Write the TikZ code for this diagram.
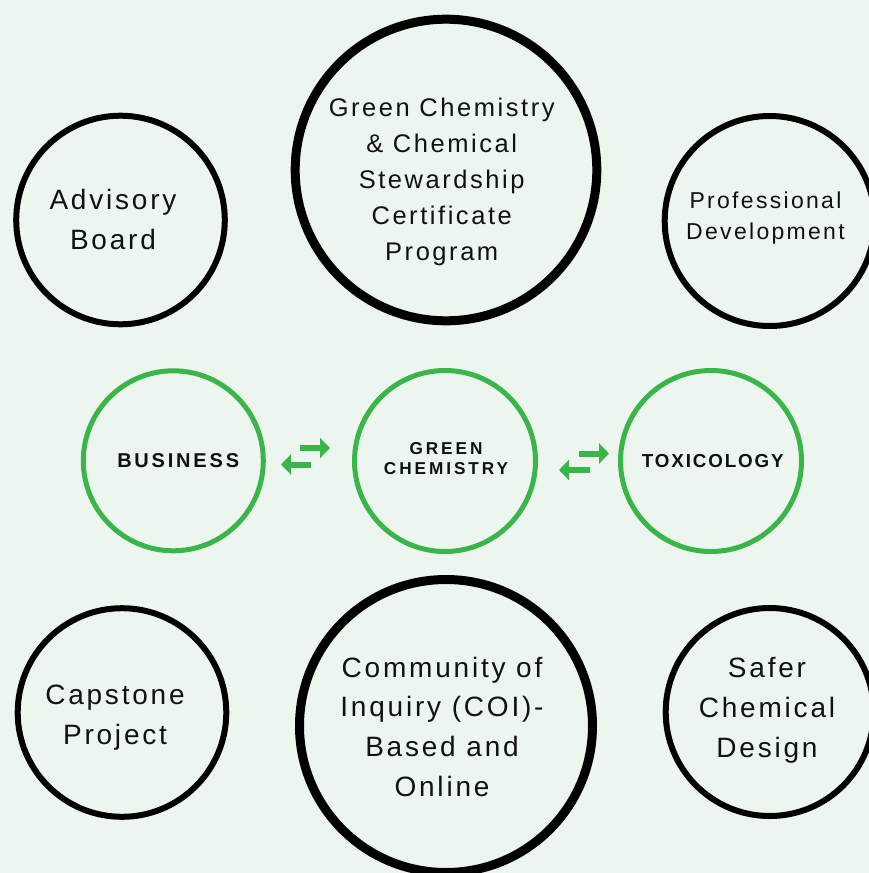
\documentclass[tikz,border=0pt]{standalone}
\usepackage{fontspec}
\setmainfont{Liberation Sans}
\newfontfamily\lsreg[LetterSpace=10]{Liberation Sans}
\newfontfamily\lsbus[LetterSpace=14]{Liberation Sans}
\newfontfamily\lsgc[LetterSpace=17]{Liberation Sans}
\newfontfamily\lstox[LetterSpace=10]{Liberation Sans}
\usetikzlibrary{arrows.meta}
\definecolor{bg}{HTML}{EDF6EE}
\definecolor{grn}{HTML}{3AB54A}
\definecolor{ink}{HTML}{111111}
\tikzset{
  bigring/.style={circle, draw=black, line width=9pt, inner sep=0pt},
  ring/.style={circle, draw=black, line width=6pt, inner sep=0pt},
  greenring/.style={circle, draw=grn, line width=5pt, inner sep=0pt},
  lbl/.style={anchor=north, inner sep=0pt, align=center, text=ink},
  swap/.style={draw=grn, line width=6pt, -{Triangle[length=10pt,width=20pt]}},
}
\begin{document}
\begin{tikzpicture}[x=1pt, y=-1pt]
\fill[bg] (0,0) rectangle (869,873);
\useasboundingbox (0,0) rectangle (869,873);

% black rings
\node[bigring, minimum size=301.6pt] (cert) at (446,170) {};
\node[bigring, minimum size=293pt] (coi) at (446,726) {};
\node[ring, minimum size=208.6pt] (adv) at (120.5,220) {};
\node[ring, minimum size=210pt] (prof) at (769.7,221) {};
\node[ring, minimum size=208.6pt] (cap) at (122,712.5) {};
\node[ring, minimum size=208pt] (safer) at (769.7,712) {};

% green rings
\node[greenring, minimum size=180pt] (bus) at (173.3,460.8) {};
\node[greenring, minimum size=181pt] (gc) at (445,461) {};
\node[greenring, minimum size=181pt] (tox) at (711,461) {};

% labels
\node[lbl, font=\lsreg\fontsize{25.5}{36.1}\selectfont] (certT) at (441.7,97.5)
  {Green Chemistry\\\& Chemical\\Stewardship\\Certificate\\Program};
\node[lbl, font=\lsreg\fontsize{28}{40}\selectfont] (advT) at (113,189.3)
  {Advisory\\Board};
\node[lbl, font=\lsreg\fontsize{23}{31}\selectfont] (profT) at (765.5,191.7)
  {Professional\\Development};
\node[lbl, font=\lsreg\fontsize{28}{39.8}\selectfont] (coiT) at (442,656.7)
  {Community of\\Inquiry (COI)-\\Based and\\Online};
\node[lbl, font=\lsreg\fontsize{28}{40.4}\selectfont] (capT) at (115,684.3)
  {Capstone\\Project};
\node[lbl, font=\lsreg\fontsize{28}{40}\selectfont] (saferT) at (767,656.7)
  {Safer\\Chemical\\Design};

\node[lbl, font=\lsbus\bfseries\fontsize{20}{24}\selectfont] (busT) at (178.2,453.3) {BUSINESS};
\node[lbl, font=\lsgc\bfseries\fontsize{17.2}{19.5}\selectfont] (gcT) at (446,442.7) {GREEN\\CHEMISTRY};
\node[lbl, font=\lstox\bfseries\fontsize{18.8}{22}\selectfont] (toxT) at (712.8,454.3) {TOXICOLOGY};

% exchange arrows
\coordinate (a1s) at (300,448);   \coordinate (a1e) at (330,448);
\coordinate (a2s) at (311,464.5); \coordinate (a2e) at (281,464.5);
\coordinate (a3s) at (579,453.5); \coordinate (a3e) at (609,453.5);
\coordinate (a4s) at (590,470);   \coordinate (a4e) at (559,470);
\draw[swap] (a1s) -- (a1e);
\draw[swap] (a2s) -- (a2e);
\draw[swap] (a3s) -- (a3e);
\draw[swap] (a4s) -- (a4e);
\end{tikzpicture}
\end{document}
